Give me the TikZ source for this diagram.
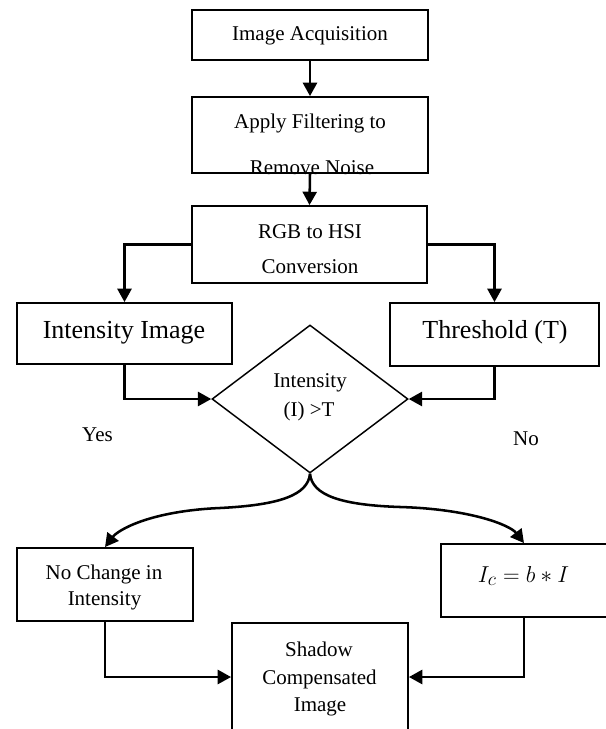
\documentclass[tikz,border=0pt]{standalone}
\usepackage{fontspec}
\setmainfont{Liberation Serif}
\usetikzlibrary{arrows.meta,shapes.geometric}
\begin{document}
\begin{tikzpicture}[x=0.75pt,y=-0.75pt,
  box/.style 2 args={draw,line width=1.4pt,inner sep=0pt,minimum width=#1*0.75pt,minimum height=#2*0.75pt},
  txt/.style={inner sep=0pt,anchor=base,font=\fontsize{15.75pt}{18pt}\selectfont},
  bigtxt/.style={inner sep=0pt,anchor=base,font=\fontsize{19.5pt}{22pt}\selectfont},
  conn/.style={line width=1.9pt,-{Triangle[length=10pt,width=10.5pt]}},
  decision/.style={diamond,draw,line width=1.1pt,inner sep=0pt,minimum width=196*0.75pt,minimum height=148*0.75pt}
]
\useasboundingbox (0,0) rectangle (606,729);
\fill[white] (0,0) rectangle (606,729);
\clip (0,0) rectangle (606,729);

% texts
\node[txt] (t1) at (310,40) {Image Acquisition};
\node[txt] (t2a) at (310,128) {Apply Filtering to};
\node[txt] (t2b) at (312,174) {Remove Noise};
\node[txt] (t3a) at (310,238) {RGB to HSI};
\node[txt] (t3b) at (310,273) {Conversion};
\node[bigtxt] (t4) at (124,338) {Intensity Image};
\node[bigtxt] (t5) at (495,338) {Threshold (T)};
\node[txt] (tda) at (310,387) {Intensity};
\node[txt] (tdb) at (309,416) {(I) >T};
\node[txt] (tyes) at (97.5,441) {Yes};
\node[txt] (tno) at (526,445) {No};
\node[txt] (t6a) at (104,579) {No Change in};
\node[txt] (t6b) at (104.5,605) {Intensity};
\node[inner sep=0pt,anchor=base,font=\fontsize{19pt}{22pt}\selectfont] (t7) at (523.5,582) {$I_c = b * I$};
\node[txt] (t8a) at (319,656) {Shadow};
\node[txt] (t8b) at (319.5,684) {Compensated};
\node[txt] (t8c) at (320,711) {Image};

% boxes
\node[box={236}{50}] (b1) at (310,35) {};
\node[box={236}{76}] (b2) at (310,135) {};
\node[box={235}{77}] (b3) at (309.5,244.5) {};
\node[box={215}{61}] (b4) at (124.5,333.5) {};
\node[box={209}{63}] (b5) at (494.5,334.5) {};
\node[decision] (d) at (310,399) {};
\node[box={176}{73}] (b6) at (105,584.5) {};
\node[box={166}{73}] (b7) at (524,580.5) {};
\node[box={176}{108}] (b8) at (320,677) {};

% connectors
\draw[conn] (b1.south) -- (b2.north);
\draw[conn] (b2.south) -- (b3.north);
\draw[conn] (b3.west) -| (b4.north);
\draw[conn] (b3.east) -| (b5.north);
\draw[conn] (b4.south) |- (d.west);
\draw[conn] (b5.south) |- (d.east);
\draw[conn] (d.south) .. controls (308,495) and (280,505) .. (220,508)
  .. controls (150,511) and (118,530) .. (b6.north);
\draw[conn] (d.south) .. controls (312,495) and (340,505) .. (400,507)
  .. controls (470,509) and (510,525) .. (b7.north);
\draw[conn] (b6.south) |- (b8.west);
\draw[conn] (b7.south) |- (b8.east);
\end{tikzpicture}
\end{document}
